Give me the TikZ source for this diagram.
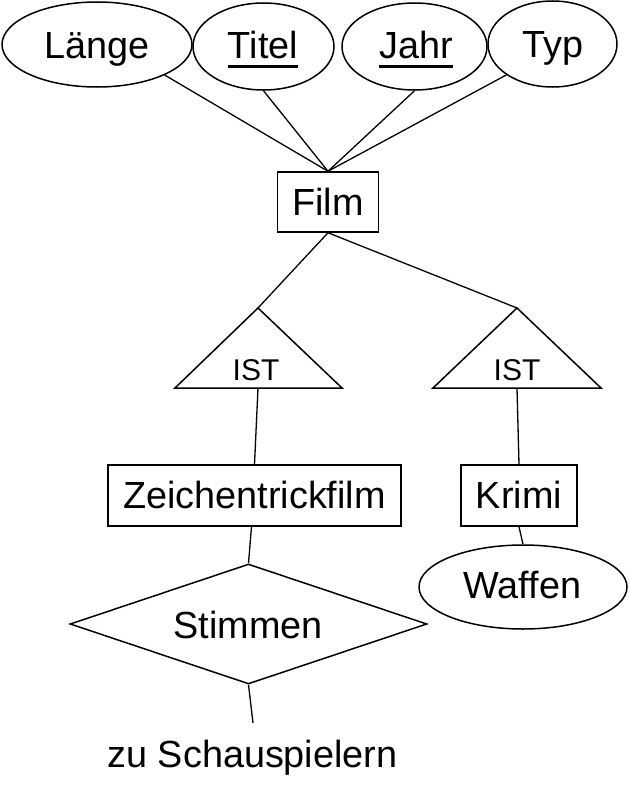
\documentclass[tikz,border=0pt]{standalone}
\usepackage{fontspec}
\setmainfont{Liberation Sans}
\usetikzlibrary{shapes.geometric}
\newcommand{\keyattr}[1]{\setbox0\hbox{#1}\rlap{\usebox0}\rule[-9pt]{\wd0}{3pt}}
\tikzset{
  shp/.style={inner sep=0pt, line width=1.5pt},
  attr/.style={shp, draw, ellipse},
  entity/.style={shp, draw, rectangle},
  rel/.style={shp, draw, diamond, aspect=2.975},
  isatri/.style={line width=1.5pt, line join=miter},
  txt/.style={inner sep=0pt, anchor=base, font=\fontsize{37.8}{40}\selectfont},
  isatext/.style={inner sep=0pt, anchor=base, font=\fontsize{30}{32}\selectfont},
  conn/.style={line width=1.3pt}
}
\begin{document}
\begin{tikzpicture}[x=1pt,y=-1pt]
\useasboundingbox (0,0) rectangle (629,800);
% attributes
\node[attr, minimum width=190pt, minimum height=85pt] (laenge) at (97,44.5) {};
\node[attr, minimum width=141pt, minimum height=87pt] (titel) at (263.5,46.5) {};
\node[attr, minimum width=145pt, minimum height=87pt] (jahr) at (414.5,46.5) {};
\node[attr, minimum width=129pt, minimum height=86pt] (typ) at (552.5,44) {};
\node[txt] (laengeT) at (97,59) {Länge};
\node[txt] (titelT) at (263,59) {\keyattr{Titel}};
\node[txt] (jahrT) at (416,59) {\keyattr{Jahr}};
\node[txt] (typT) at (553,58) {Typ};
% entities
\node[entity, minimum width=101pt, minimum height=60pt] (film) at (328,202) {};
\node[txt] (filmT) at (328,215) {Film};
\node[entity, minimum width=293pt, minimum height=61pt] (zeich) at (254.5,495.5) {};
\node[txt] (zeichT) at (254.5,508) {Zeichentrickfilm};
\node[entity, minimum width=116pt, minimum height=61pt] (krimi) at (519,495.5) {};
\node[txt] (krimiT) at (519,508) {Krimi};
\node[attr, minimum width=208pt, minimum height=84pt] (waffen) at (523,587) {};
\node[txt] (waffenT) at (522.5,598) {Waffen};
\node[rel, minimum width=357pt, minimum height=120pt] (stimmen) at (248.5,624) {};
\node[txt] (stimmenT) at (248,638) {Stimmen};
\node[txt] (schau) at (252.5,767) {zu Schauspielern};
% IST triangles
\coordinate (t1top) at (258,308);
\coordinate (t1bot) at (258,388);
\coordinate (t2top) at (517,308);
\coordinate (t2bot) at (517,388);
\draw[isatri] (t1top) -- (342,388) -- (175,388) -- cycle;
\draw[isatri] (t2top) -- (601,388) -- (433,388) -- cycle;
\node[isatext] (ist1) at (256,380) {IST};
\node[isatext] (ist2) at (517,380) {IST};
\coordinate (free) at (253,723);
% connectors
\draw[conn] (laenge.south east) -- (film.north);
\draw[conn] (titel.south) -- (film.north);
\draw[conn] (jahr.south) -- (film.north);
\draw[conn] (typ.south west) -- (film.north);
\draw[conn] (film.south) -- (t1top);
\draw[conn] (film.south) -- (t2top);
\draw[conn] (t1bot) -- (zeich.north);
\draw[conn] (t2bot) -- (krimi.north);
\draw[conn] (krimi.south) -- (waffen.north);
\draw[conn] ([xshift=-3pt]zeich.south) -- (stimmen.north);
\draw[conn] (stimmen.south) -- (free);
\end{tikzpicture}
\end{document}
